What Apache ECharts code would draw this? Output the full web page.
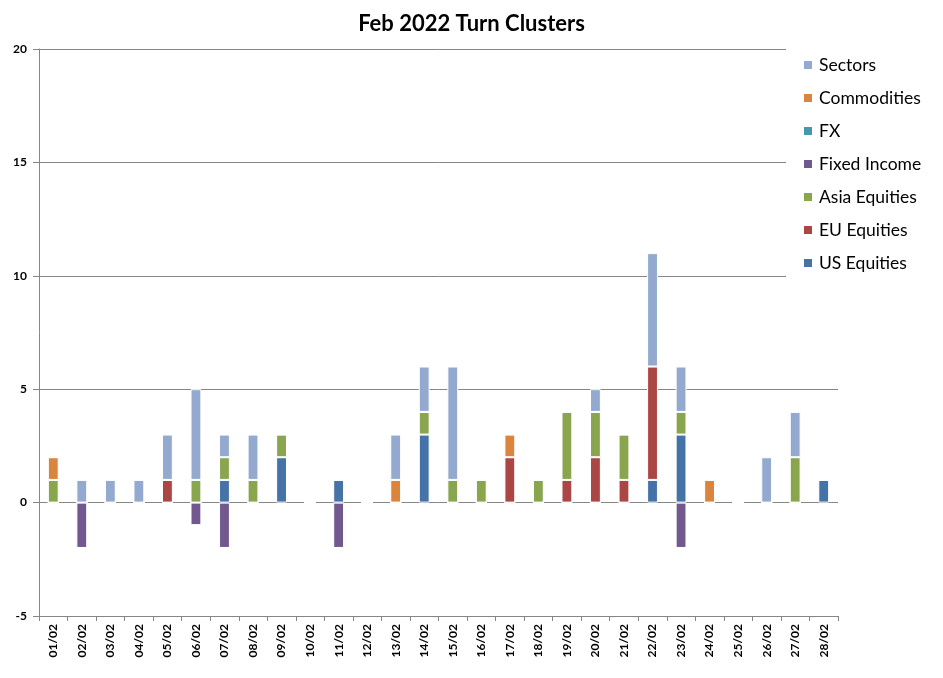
<!DOCTYPE html>
<html>
<head>
<meta charset="utf-8">
<script src="https://cdn.jsdelivr.net/npm/echarts@6/dist/echarts.min.js"></script>
<style>html,body{margin:0;padding:0;background:#fff;}#c{width:943px;height:678px;}</style>
</head>
<body>
<div id="c"></div>
<script>
const categories = ['01/02','02/02','03/02','04/02','05/02','06/02','07/02','08/02','09/02','10/02','11/02','12/02','13/02','14/02','15/02','16/02','17/02','18/02','19/02','20/02','21/02','22/02','23/02','24/02','25/02','26/02','27/02','28/02'];
const usEquities   = [0,0,0,0,0,0,1,0,2,0,1,0,0,3,0,0,0,0,0,0,0,1,3,0,0,0,0,1];
const euEquities   = [0,0,0,0,1,0,0,0,0,0,0,0,0,0,0,0,2,0,1,2,1,5,0,0,0,0,0,0];
const asiaEquities = [1,0,0,0,0,1,1,1,1,0,0,0,0,1,1,1,0,1,3,2,2,0,1,0,0,0,2,0];
const fixedIncome  = [0,-2,0,0,0,-1,-2,0,0,0,-2,0,0,0,0,0,0,0,0,0,0,0,-2,0,0,0,0,0];
const fx           = [0,0,0,0,0,0,0,0,0,0,0,0,0,0,0,0,0,0,0,0,0,0,0,0,0,0,0,0];
const commodities  = [1,0,0,0,0,0,0,0,0,0,0,0,1,0,0,0,1,0,0,0,0,0,0,1,0,0,0,0];
const sectors      = [0,1,1,1,2,4,1,2,0,0,0,0,2,2,5,0,0,0,0,1,0,5,2,0,0,2,2,0];
const yTicks = {min: -5, max: 20, interval: 5};

const seriesDefs = [
  ['US Equities', usEquities, '#4572A7'],
  ['EU Equities', euEquities, '#AA4643'],
  ['Asia Equities', asiaEquities, '#89A54E'],
  ['Fixed Income', fixedIncome, '#71588F'],
  ['FX', fx, '#4198AF'],
  ['Commodities', commodities, '#DB843D'],
  ['Sectors', sectors, '#93A9CF']
];

const chart = echarts.init(document.getElementById('c'), null, {renderer: 'canvas'});
const font = 'Lato, "Open Sans", "Liberation Sans", sans-serif';
chart.setOption({
  animation: false,
  backgroundColor: '#fff',
  title: {
    text: 'Feb 2022 Turn Clusters',
    left: 'center',
    top: 8,
    textStyle: {fontFamily: font, fontSize: 22, fontWeight: 'bold', color: '#000'}
  },
  legend: {
    orient: 'vertical',
    left: 786,
    top: 45,
    padding: [11, 10, 12, 16],
    backgroundColor: '#fff',
    itemWidth: 10,
    itemHeight: 10,
    itemGap: 15,
    icon: 'rect',
    data: seriesDefs.map(s => s[0]).reverse(),
    textStyle: {fontFamily: font, fontSize: 17.5, color: '#000', lineHeight: 18, padding: [0, 0, 0, 1]}
  },
  grid: {left: 39, right: 105, top: 49, bottom: 62, containLabel: false},
  xAxis: {
    type: 'category',
    data: categories,
    axisLine: {onZero: false, lineStyle: {color: '#868686', width: 1}},
    axisTick: {show: true, length: 5, lineStyle: {color: '#868686'}},
    axisLabel: {rotate: 90, fontFamily: font, fontSize: 12, color: '#000', fontWeight: 'bold', margin: 8, interval: 0},
    splitLine: {show: false}
  },
  yAxis: {
    type: 'value',
    min: yTicks.min, max: yTicks.max, interval: yTicks.interval,
    axisLine: {show: true, lineStyle: {color: '#868686', width: 1}},
    axisTick: {show: true, length: 6, lineStyle: {color: '#868686'}},
    axisLabel: {fontFamily: font, fontSize: 12, color: '#000', fontWeight: 'bold', margin: 12},
    splitLine: {show: true, lineStyle: {color: '#868686', width: 1}}
  },
  series: seriesDefs.map(([name, data, color]) => ({
    name, type: 'bar', stack: 'total', data,
    barWidth: '38%',
    itemStyle: {color, borderColor: '#fff', borderWidth: 1}
  }))
});
</script>
</body>
</html>
